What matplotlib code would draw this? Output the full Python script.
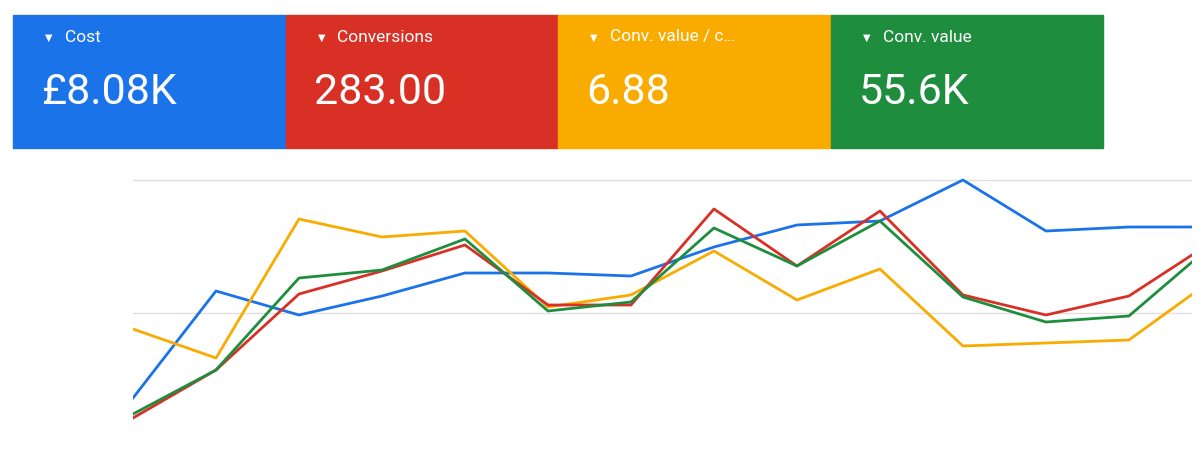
import matplotlib.pyplot as plt
from matplotlib.patches import Rectangle

plt.rcParams['font.family'] = ['Roboto', 'DejaVu Sans']

# scorecards
card_titles = ["Cost", "Conversions", "Conv. value / c…", "Conv. value"]
card_values = ["£8.08K", "283.00", "6.88", "55.6K"]
card_colors = ["#1a73e8", "#d93025", "#f9ab00", "#1e8e3e"]

# series (arbitrary scale)
x = list(range(14))
cost = [57, 164, 140, 159, 182, 182, 179, 208, 230, 234, 275, 224, 228, 228]
conversions = [37, 85, 161, 184, 210, 150, 150, 246, 189, 244, 160, 140, 159, 213]
conv_value = [41, 85, 177, 185, 216, 144, 153, 227, 189, 234, 158, 133, 139, 210]
value_per_cost = [126, 97, 236, 218, 224, 148, 160, 204, 155, 186, 109, 112, 115, 175]

W, H = 1200, 455
fig = plt.figure(figsize=(12, 4.55), dpi=100)
fig.patch.set_facecolor("white")

card_w = 272.5
for i, (t, v, c) in enumerate(zip(card_titles, card_values, card_colors)):
    x0 = 13 + i * card_w
    fig.patches.append(Rectangle((x0 / W, 1 - 148 / H), card_w / W, 133 / H,
                                 transform=fig.transFigure, color=c, zorder=0))
    fig.text((x0 + 32) / W, 1 - 38 / H, "▼", color="white", fontsize=7,
             va="center", family=["DejaVu Sans"])
    fig.text((x0 + 52) / W, 1 - 37 / H, t, color="white", fontsize=12.5, va="center")
    fig.text((x0 + 28) / W, 1 - 93 / H, v, color="white", fontsize=31, va="center")

ax = fig.add_axes([133 / W, 15 / H, 1059 / W, 280 / H])
ax.plot(x, cost, color=card_colors[0], lw=2)
ax.plot(x, value_per_cost, color=card_colors[2], lw=2)
ax.plot(x, conversions, color=card_colors[1], lw=2)
ax.plot(x, conv_value, color=card_colors[3], lw=2)
ax.set_xlim(0, 12.76)
ax.set_ylim(15, 295)
ax.set_yticks([142, 275])
ax.yaxis.grid(True, color="#e0e0e0", lw=1)
ax.tick_params(left=False, bottom=False, labelleft=False, labelbottom=False)
for s in ax.spines.values():
    s.set_visible(False)
ax.set_axisbelow(True)

fig.savefig("out.png", dpi=100)
